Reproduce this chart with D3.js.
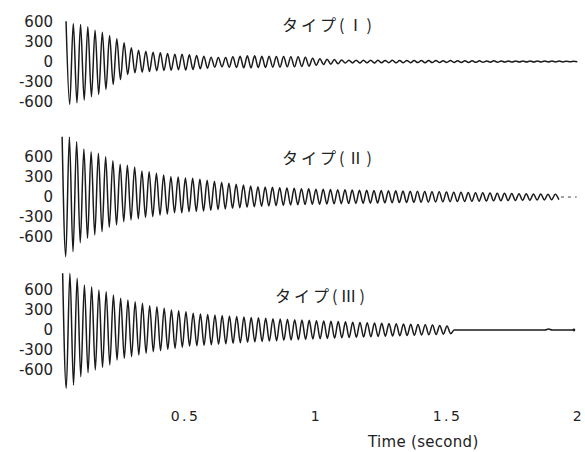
<!DOCTYPE html>
<html>
<head>
<meta charset="utf-8">
<script src="https://cdn.jsdelivr.net/npm/d3@7"></script>
<style>
  body { margin: 0; background: #fff; }
  svg { display: block; }
</style>
</head>
<body>
<svg width="585" height="452"></svg>
<script>
// パネル名
const panelTitles = ["タイプ(Ⅰ)", "タイプ(Ⅱ)", "タイプ(Ⅲ)"];
const yTicks = [600, 300, 0, -300, -600];
const xTicks = [0.5, 1, 1.5, 2];
// 各波形の開始時刻(秒)と半周期(秒)
const startTimes = [0.046, 0.031, 0.033];
const halfPeriod = 0.01384;

// 1周期ごとの正のピーク / 負のピーク(絶対値)
const peaksI = [604,570,555,520,470,440,390,340,280,205,170,155,140,130,120,110,
  110,100,90,80,65,60,60,70,
  80,85,85,80,80,75,75,70,70,65,
  50,40,35,30,
  22,20,20,18,20,18,16,18,15,16,14,15,14,15,13,14,12,13,12,
  10,9,10,8,9,8,8,7,8,6,7,6,5,5];
const troughsI = [645,620,580,530,495,420,345,270,195,170,160,150,140,135,130,125,
  130,120,110,100,85,80,85,90,
  95,95,90,90,85,85,80,80,75,70,
  55,45,40,35,
  24,22,22,20,22,20,18,20,17,18,16,17,16,16,15,15,14,14,13,
  11,10,10,9,9,8,8,8,7,7,6,6,5,5];

const peaksII = [905,900,830,720,680,655,605,545,490,475,450,390,380,355,330,305,300,285,280,
  265,250,235,220,205,190,180,165,155,
  150,145,140,135,130,125,122,118,115,
  112,110,108,105,102,100,98,96,95,
  92,90,88,85,82,80,78,75,72,70,
  68,65,62,60,58,55,52,50,48,46,44,42,40];
const troughsII = [895,820,685,620,570,520,455,420,370,345,325,305,295,270,255,235,235,220,215,
  210,200,190,180,170,160,152,145,140,
  135,130,125,120,116,112,110,108,105,
  102,100,98,96,94,92,90,88,86,
  84,82,80,78,76,74,72,70,68,66,
  64,62,60,58,56,54,52,50,48,46,44,42,40];
const tailII = [1.935, 1.995];

const peaksIII = [850,850,775,675,650,600,575,525,475,450,425,400,365,350,325,300,290,275,250,
  240,232,225,218,210,202,195,188,182,176,170,165,160,155,150,145,140,135,
  130,126,122,118,114,110,106,102,98,94,90,86,82,78,74,68,60,
  0,0,0,0,0,0,0,0,0,0,0,0,0,15,0,0,0];
const troughsIII = [875,825,700,640,600,560,525,450,425,400,375,350,325,310,290,275,260,240,235,
  230,222,215,208,200,192,185,178,172,166,160,155,150,145,140,135,130,126,
  122,118,114,110,106,102,98,94,90,86,82,78,74,70,66,62,55,
  0,0,0,0,0,0,0,0,0,0,0,0,0,0,0,0,0];

const peakSets = [peaksI, peaksII, peaksIII];
const troughSets = [troughsI, troughsII, troughsIII];

// レイアウト
const panelZero = [61.5, 197, 330];
const halfSpan = 40;
const titlePos = [[282, 31], [282, 164], [275, 302]];

const svg = d3.select("svg");
const xScale = d3.scaleLinear().domain([0, 2]).range([54, 578]);

panelTitles.forEach((title, i) => {
  const zero = panelZero[i];
  const yScale = d3.scaleLinear().domain([-600, 600]).range([zero + halfSpan, zero - halfSpan]);

  const pts = [];
  peakSets[i].forEach((p, k) => {
    pts.push({ t: startTimes[i] + 2 * k * halfPeriod, v: p });
    if (troughSets[i][k] !== undefined) {
      pts.push({ t: startTimes[i] + (2 * k + 1) * halfPeriod, v: -troughSets[i][k] });
    }
  });

  const line = d3.line()
    .x(d => xScale(d.t))
    .y(d => yScale(d.v))
    .curve(d3.curveMonotoneX);

  const g = svg.append("g").attr("class", "panel");

  g.append("path")
    .datum(pts)
    .attr("d", line)
    .attr("fill", "none")
    .attr("stroke", "#1a1a1a")
    .attr("stroke-width", 1.5)
    .attr("stroke-linejoin", "round");

  const yAxis = d3.axisLeft(yScale)
    .tickValues(yTicks)
    .tickSize(0)
    .tickPadding(0)
    .tickFormat(d => String(d));

  g.append("g")
    .attr("transform", "translate(53,0)")
    .call(ax => {
      ax.call(yAxis);
      ax.select(".domain").remove();
      ax.selectAll("text")
        .attr("fill", "#222")
        .style("font-family", "'DejaVu Sans', sans-serif")
        .style("font-size", "15px");
    });

  g.append("text")
    .attr("x", titlePos[i][0])
    .attr("y", titlePos[i][1])
    .style("font-family", "'Noto Sans CJK JP', sans-serif")
    .style("font-size", "16px")
    .style("letter-spacing", "3px")
    .attr("fill", "#222")
    .text(title);

  if (i === 1) {
    g.append("line")
      .attr("x1", xScale(tailII[0]))
      .attr("x2", xScale(tailII[1]))
      .attr("y1", yScale(0))
      .attr("y2", yScale(0))
      .attr("stroke", "#444")
      .attr("stroke-width", 1)
      .attr("stroke-dasharray", "3,4");
  }
  if (i === 2) {
    const last = pts[pts.length - 1];
    g.append("circle")
      .attr("cx", xScale(last.t))
      .attr("cy", yScale(last.v))
      .attr("r", 1.4)
      .attr("fill", "#222");
  }
});

// 時間軸
const xAxis = d3.axisBottom(xScale)
  .tickValues(xTicks)
  .tickSize(0)
  .tickFormat(d => String(d));

svg.append("g")
  .attr("transform", "translate(0,408)")
  .call(ax => {
    ax.call(xAxis);
    ax.select(".domain").remove();
    ax.selectAll("text")
      .attr("fill", "#222")
      .style("font-family", "'DejaVu Sans', sans-serif")
      .style("font-size", "14px")
      .style("letter-spacing", "2.5px");
  });

svg.append("text")
  .attr("x", 368)
  .attr("y", 447)
  .style("font-family", "'DejaVu Sans', sans-serif")
  .style("font-size", "15px")
  .style("letter-spacing", "0.3px")
  .attr("fill", "#222")
  .text("Time (second)");
</script>
</body>
</html>
